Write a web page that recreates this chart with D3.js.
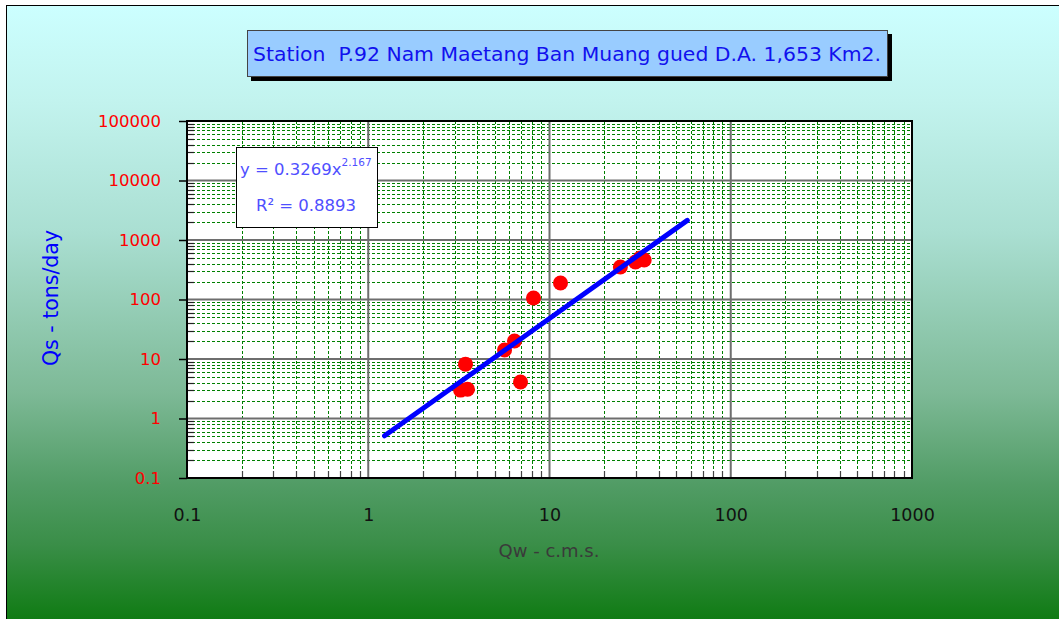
<!DOCTYPE html>
<html>
<head>
<meta charset="utf-8">
<script src="https://cdn.jsdelivr.net/npm/d3@7"></script>
<style>
  html, body { margin: 0; padding: 0; background: #ffffff; }
  svg { display: block; }
</style>
</head>
<body>
<svg id="chart" width="1059" height="619"></svg>
<script>
// ---- Data ----
const titleText = "Station  P.92 Nam Maetang Ban Muang gued D.A. 1,653 Km2.";
const xTitle = "Qw - c.m.s.";
const yTitle = "Qs - tons/day";
const eqMain = "y = 0.3269x";
const eqExp = "2.167";
const eqR2 = "R\u00B2 = 0.8893";

const qw = [3.23, 3.44, 3.53, 5.65, 6.41, 6.92, 8.16, 11.5, 24.6, 29.8, 31.7, 33.3];
const qs = [3.0, 8.2, 3.1, 14.2, 20.1, 4.1, 106, 189, 351, 427, 497, 461];

const trendQw = [1.23, 57.6];
const trendQs = [0.512, 2135];

const xTickValues = [0.1, 1, 10, 100, 1000];
const xTickLabels = ["0.1", "1", "10", "100", "1000"];
const yTickValues = [0.1, 1, 10, 100, 1000, 10000, 100000];
const yTickLabels = ["0.1", "1", "10", "100", "1000", "10000", "100000"];
const minorMultipliers = [2, 3, 4, 5, 6, 7, 8, 9];

// ---- Layout ----
const W = 1059, H = 619;
const plot = { left: 187, right: 912, top: 121, bottom: 478 };

const svg = d3.select("#chart");
const defs = svg.append("defs");
const grad = defs.append("linearGradient")
  .attr("id", "bg").attr("x1", 0).attr("y1", 0).attr("x2", 0).attr("y2", 1);
[[0, "#ccffff"], [0.155, "#c2f3ee"], [0.366, "#aadfd2"], [0.627, "#7db996"],
 [0.774, "#519c65"], [0.871, "#3a8e48"], [1, "#0d7a10"]]
  .forEach(([o, c]) => grad.append("stop").attr("offset", o).attr("stop-color", c));

svg.append("rect").attr("x", 0).attr("y", 0).attr("width", W).attr("height", H).attr("fill", "#ffffff");
svg.append("rect").attr("x", 6.5).attr("y", 5.5).attr("width", W).attr("height", H)
  .attr("fill", "url(#bg)").attr("stroke", "#000").attr("stroke-width", 1);

// ---- Scales ----
const x = d3.scaleLog().domain([0.1, 1000]).range([plot.left, plot.right]);
const y = d3.scaleLog().domain([0.1, 100000]).range([plot.bottom, plot.top]);

// plot area
svg.append("rect")
  .attr("x", plot.left).attr("y", plot.top)
  .attr("width", plot.right - plot.left).attr("height", plot.bottom - plot.top)
  .attr("fill", "#ffffff");

// minor values
const xMinor = [];
xTickValues.slice(0, -1).forEach(d => minorMultipliers.forEach(m => xMinor.push(d * m)));
const yMinor = [];
yTickValues.slice(0, -1).forEach(d => minorMultipliers.forEach(m => yMinor.push(d * m)));

const grid = svg.append("g");
// minor grid (green dashed)
grid.selectAll(".vminor").data(xMinor).join("line")
  .attr("x1", d => Math.round(x(d)) + 0.5).attr("x2", d => Math.round(x(d)) + 0.5)
  .attr("y1", plot.top).attr("y2", plot.bottom)
  .attr("stroke", "#008000").attr("stroke-width", 1).attr("stroke-dasharray", "3,2");
grid.selectAll(".hminor").data(yMinor).join("line")
  .attr("y1", d => Math.round(y(d)) + 0.5).attr("y2", d => Math.round(y(d)) + 0.5)
  .attr("x1", plot.left).attr("x2", plot.right)
  .attr("stroke", "#008000").attr("stroke-width", 1).attr("stroke-dasharray", "3,2");
// major grid (gray)
grid.selectAll(".vmajor").data(xTickValues.slice(1, -1)).join("line")
  .attr("x1", d => x(d)).attr("x2", d => x(d))
  .attr("y1", plot.top).attr("y2", plot.bottom)
  .attr("stroke", "#6e6e6e").attr("stroke-width", 2);
grid.selectAll(".hmajor").data(yTickValues.slice(1, -1)).join("line")
  .attr("y1", d => y(d)).attr("y2", d => y(d))
  .attr("x1", plot.left).attr("x2", plot.right)
  .attr("stroke", "#6e6e6e").attr("stroke-width", 2);

// inner minor ticks
grid.selectAll(".ytickin").data(yMinor).join("line")
  .attr("y1", d => Math.round(y(d)) + 0.5).attr("y2", d => Math.round(y(d)) + 0.5)
  .attr("x1", plot.left).attr("x2", plot.left + 7)
  .attr("stroke", "#222").attr("stroke-width", 1.2);
grid.selectAll(".xtickin").data(xMinor).join("line")
  .attr("x1", d => Math.round(x(d)) + 0.5).attr("x2", d => Math.round(x(d)) + 0.5)
  .attr("y1", plot.bottom).attr("y2", plot.bottom - 7)
  .attr("stroke", "#444").attr("stroke-width", 1.2);

// plot border
svg.append("rect")
  .attr("x", plot.left).attr("y", plot.top)
  .attr("width", plot.right - plot.left).attr("height", plot.bottom - plot.top)
  .attr("fill", "none").attr("stroke", "#000").attr("stroke-width", 2);

// ---- Axes ----
const yAxis = d3.axisLeft(y).tickValues(yTickValues)
  .tickFormat((d, i) => yTickLabels[i]).tickSize(8).tickPadding(18);
const gy = svg.append("g").attr("transform", `translate(${plot.left},0)`).call(yAxis);
gy.select(".domain").remove();
gy.selectAll(".tick line").attr("stroke", "#000").attr("stroke-width", 1.5);
gy.selectAll(".tick text")
  .attr("fill", "#ff0000").style("font-family", "'DejaVu Sans', Verdana, sans-serif")
  .style("font-size", "16.5px");

const xAxis = d3.axisBottom(x).tickValues(xTickValues)
  .tickFormat((d, i) => xTickLabels[i]).tickSize(0).tickPadding(31);
const gx = svg.append("g").attr("transform", `translate(0,${plot.bottom})`).call(xAxis);
gx.select(".domain").remove();
gx.selectAll(".tick text")
  .attr("fill", "#111").style("font-family", "'DejaVu Sans', Verdana, sans-serif")
  .style("font-size", "17.5px");

// axis titles
svg.append("text")
  .attr("x", (plot.left + plot.right) / 2 - 0.5).attr("y", 557)
  .attr("text-anchor", "middle")
  .attr("fill", "#3a3a3a")
  .style("font-family", "'DejaVu Sans', Verdana, sans-serif").style("font-size", "18px")
  .text(xTitle);

svg.append("text")
  .attr("transform", "translate(58,298) rotate(-90)")
  .attr("text-anchor", "middle")
  .attr("fill", "#0000ff")
  .style("font-family", "'DejaVu Sans', Verdana, sans-serif").style("font-size", "20.5px")
  .text(yTitle);

// ---- Marks ----
const pts = qw.map((v, i) => ({ qw: v, qs: qs[i] }));
svg.append("g").selectAll("circle").data(pts).join("circle")
  .attr("cx", d => x(d.qw)).attr("cy", d => y(d.qs)).attr("r", 7.5)
  .attr("fill", "#ff0000");

const trend = trendQw.map((v, i) => ({ qw: v, qs: trendQs[i] }));
svg.append("path").datum(trend)
  .attr("d", d3.line().x(d => x(d.qw)).y(d => y(d.qs)))
  .attr("fill", "none").attr("stroke", "#0000ff").attr("stroke-width", 5)
  .attr("stroke-linecap", "round");

// ---- Equation box ----
svg.append("rect").attr("x", 236.5).attr("y", 147.5).attr("width", 141).attr("height", 80)
  .attr("fill", "#ffffff").attr("stroke", "#000").attr("stroke-width", 1);
const eq = svg.append("text").attr("x", 240).attr("y", 175)
  .attr("fill", "#4f4fff")
  .style("font-family", "'DejaVu Sans', Verdana, sans-serif").style("font-size", "16.5px");
eq.append("tspan").text(eqMain);
eq.append("tspan").attr("dy", -9).style("font-size", "10.5px").text(eqExp);
svg.append("text").attr("x", 306).attr("y", 211).attr("text-anchor", "middle")
  .attr("fill", "#4f4fff")
  .style("font-family", "'DejaVu Sans', Verdana, sans-serif").style("font-size", "16.5px")
  .text(eqR2);

// ---- Title box ----
svg.append("rect").attr("x", 251).attr("y", 34).attr("width", 641).attr("height", 47).attr("fill", "#000");
svg.append("rect").attr("x", 247.5).attr("y", 30.5).attr("width", 640).attr("height", 46)
  .attr("fill", "#99ccff").attr("stroke", "#444").attr("stroke-width", 1);
svg.append("text").attr("x", 567).attr("y", 61).attr("text-anchor", "middle")
  .attr("fill", "#1111ee")
  .attr("textLength", 628).attr("lengthAdjust", "spacingAndGlyphs")
  .style("white-space", "pre")
  .style("font-family", "'DejaVu Sans', Verdana, sans-serif").style("font-size", "20px")
  .text(titleText);
</script>
</body>
</html>
